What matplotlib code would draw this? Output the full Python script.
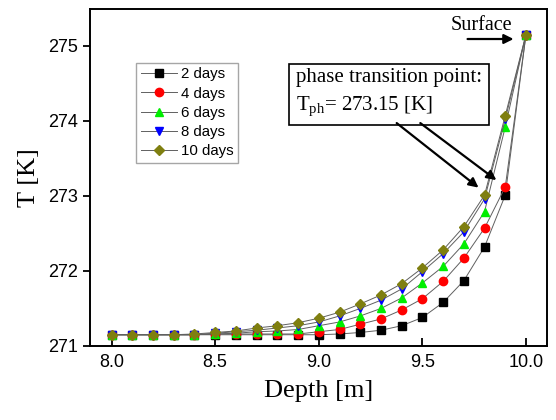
import numpy as np
import matplotlib.pyplot as plt

plt.rcParams["mathtext.fontset"] = "custom"
plt.rcParams["mathtext.rm"] = "Liberation Serif"
plt.rcParams["mathtext.it"] = "Liberation Serif:italic"

# Data
depth = [8.0, 8.1, 8.2, 8.3, 8.4, 8.5, 8.6, 8.7, 8.8, 8.9, 9.0,
         9.1, 9.2, 9.3, 9.4, 9.5, 9.6, 9.7, 9.8, 9.9, 10.0]

t_2days = [271.15, 271.15, 271.15, 271.15, 271.15, 271.15, 271.15, 271.15, 271.15, 271.15, 271.15,
           271.16, 271.18, 271.21, 271.27, 271.38, 271.58, 271.87, 272.32, 273.01, 275.15]
t_4days = [271.15, 271.15, 271.15, 271.15, 271.15, 271.16, 271.16, 271.16, 271.16, 271.16, 271.19,
           271.22, 271.29, 271.36, 271.48, 271.63, 271.86, 272.17, 272.57, 273.12, 275.15]
t_6days = [271.15, 271.15, 271.15, 271.15, 271.15, 271.16, 271.17, 271.19, 271.20, 271.22, 271.27,
           271.32, 271.40, 271.50, 271.64, 271.84, 272.06, 272.36, 272.79, 273.92, 275.15]
t_8days = [271.15, 271.15, 271.15, 271.15, 271.15, 271.17, 271.19, 271.21, 271.24, 271.27, 271.32,
           271.40, 271.50, 271.61, 271.76, 271.99, 272.23, 272.52, 272.96, 274.02, 275.15]
t_10days = [271.15, 271.15, 271.15, 271.15, 271.16, 271.18, 271.20, 271.24, 271.27, 271.31, 271.37,
            271.45, 271.56, 271.68, 271.83, 272.04, 272.28, 272.59, 273.01, 274.07, 275.15]

series = [
    ("2 days", t_2days, "s", "black", 5.5),
    ("4 days", t_4days, "o", "red", 6),
    ("6 days", t_6days, "^", "#00ee00", 6),
    ("8 days", t_8days, "v", "blue", 6),
    ("10 days", t_10days, "D", "#7f7f10", 5),
]

fig = plt.figure(figsize=(5.56, 4.2), dpi=100)
ax = fig.add_axes([0.1619, 0.1762, 0.8214, 0.8024])

for label, temps, marker, color, ms in series:
    ax.plot(depth, temps, color="#606060", lw=0.7, marker=marker, ms=ms,
            mfc=color, mec=color, label=label)

ax.set_xlim(7.896, 10.1)
ax.set_ylim(271, 275.49)
ax.set_xticks([8.0, 8.5, 9.0, 9.5, 10.0])
ax.set_yticks([271, 272, 273, 274, 275])
ax.set_xticklabels(["8.0", "8.5", "9.0", "9.5", "10.0"])

for lbl in ax.get_xticklabels() + ax.get_yticklabels():
    lbl.set_fontfamily("Liberation Sans")
    lbl.set_fontsize(13)
ax.tick_params(axis="x", direction="in", length=6, width=1.3, pad=6)
ax.tick_params(axis="y", direction="out", length=5, width=1.3)
for sp in ax.spines.values():
    sp.set_linewidth(1.4)

ax.set_xlabel("Depth [m]", fontfamily="Liberation Serif", fontsize=19, labelpad=6)
ax.set_ylabel("T [K]", fontfamily="Liberation Serif", fontsize=19, labelpad=6)

leg = ax.legend(loc="upper left", bbox_to_anchor=(0.1007, 0.84), frameon=True,
                fancybox=False, edgecolor="#909090", borderaxespad=0,
                prop={"family": "Liberation Sans", "size": 10.8},
                handlelength=2.4, handletextpad=0.3, labelspacing=0.35,
                borderpad=0.3)
leg.get_frame().set_linewidth(1.0)

# phase transition annotation
ax.text(8.89, 274.70, "phase transition point:\nT$_{\\mathrm{ph}}$= 273.15 [K]",
        fontfamily="Liberation Serif", fontsize=15, ha="left", va="top",
        linespacing=1.45,
        bbox=dict(boxstyle="square,pad=0.35", fc="white", ec="black", lw=1.2))
ax.annotate("", xy=(9.771, 273.11), xytext=(9.376, 273.97),
            arrowprops=dict(arrowstyle="-|>", color="black", lw=1.6,
                            mutation_scale=14, shrinkA=0, shrinkB=0))
ax.annotate("", xy=(9.857, 273.21), xytext=(9.49, 273.97),
            arrowprops=dict(arrowstyle="-|>", color="black", lw=1.6,
                            mutation_scale=14, shrinkA=0, shrinkB=0))

# surface annotation
ax.text(9.785, 275.27, "Surface", fontfamily="Liberation Serif", fontsize=14.5,
        ha="center", va="center")
ax.annotate("", xy=(9.94, 275.09), xytext=(9.718, 275.09),
            arrowprops=dict(arrowstyle="-|>", color="black", lw=1.6,
                            mutation_scale=14, shrinkA=0, shrinkB=0))

fig.savefig("out.png", dpi=100)
